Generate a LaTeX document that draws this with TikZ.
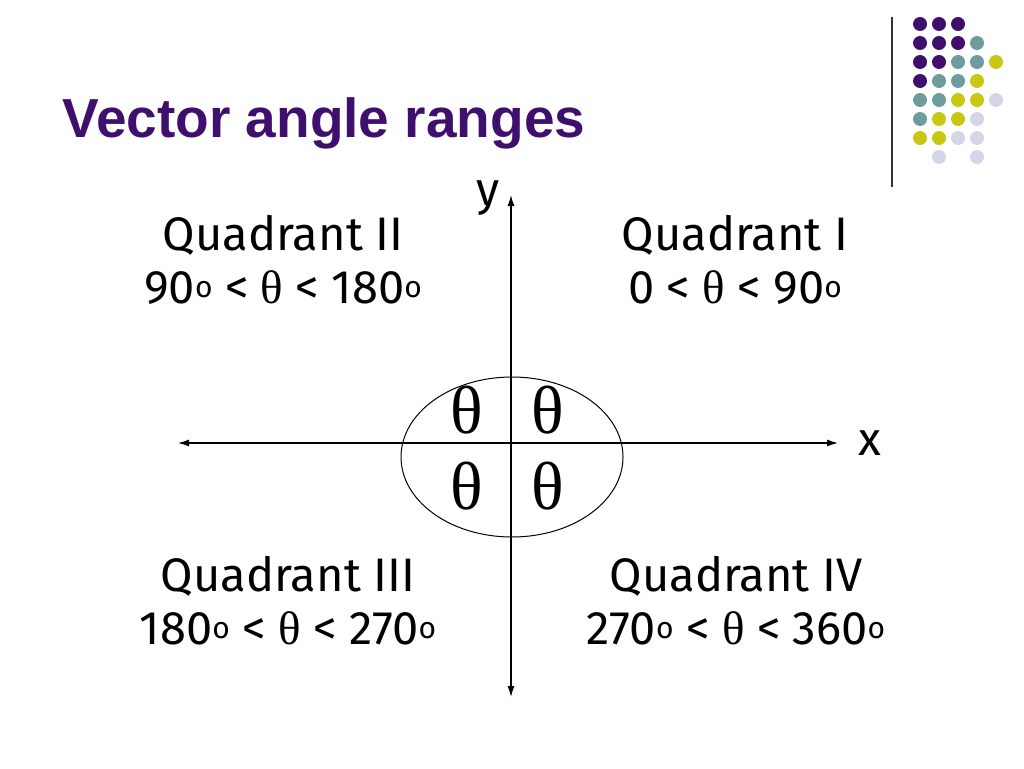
\documentclass[tikz,border=0pt]{standalone}
\usepackage{fontspec}
\setmainfont{Fira Sans}
\newfontfamily\titlefont{Liberation Sans}
\newfontfamily\thfont{Liberation Serif}
\usetikzlibrary{arrows.meta}
\definecolor{dp}{HTML}{3F0F6E}
\definecolor{dt}{HTML}{6E9C9C}
\definecolor{dy}{HTML}{C8C814}
\definecolor{dl}{HTML}{D5D5E8}
\begin{document}
\begin{tikzpicture}[x=1pt,y=-1pt,
  q/.style={align=center,font=\fontsize{47}{53}\selectfont},
  th/.style={font=\thfont\fontsize{68}{68}\selectfont}]
\useasboundingbox (0,0) rectangle (1024,768);
\node[anchor=west,text=dp,font=\titlefont\bfseries\fontsize{55}{55}\selectfont] (title) at (59,123) {Vector angle ranges};
\draw[line width=1.5pt,black!80] (892,17) -- (892,187);
\foreach \c/\r/\col in {0/0/dp,1/0/dp,2/0/dp,0/1/dp,1/1/dp,2/1/dp,3/1/dt,0/2/dp,1/2/dp,2/2/dt,3/2/dt,4/2/dy,0/3/dp,1/3/dt,2/3/dt,3/3/dy,0/4/dt,1/4/dt,2/4/dy,3/4/dy,4/4/dl,0/5/dt,1/5/dy,2/5/dy,3/5/dl,0/6/dy,1/6/dy,2/6/dl,3/6/dl,1/7/dl,3/7/dl}
  \fill[\col] ({920+19*\c},{24+19*\r}) circle (7);
\coordinate (L) at (178,443); \coordinate (R) at (838,443);
\coordinate (T) at (511,195); \coordinate (B) at (511,697);
\draw[line width=1.3pt,{Latex[length=11pt,width=7pt]}-{Latex[length=11pt,width=7pt]}] (L) -- (R);
\draw[line width=1.3pt,{Latex[length=11pt,width=7pt]}-{Latex[length=11pt,width=7pt]}] (T) -- (B);
\draw[line width=1pt] (512,457) ellipse (111 and 80);
\node[q] (yl) at (488,198) {y};
\node[q] (xl) at (870,443) {x};
\node[th] (t1) at (467,410) {θ};
\node[th] (t2) at (548,410) {θ};
\node[th] (t3) at (467,486) {θ};
\node[th] (t4) at (548,486) {θ};
\newcommand{\dg}{\raisebox{0.25ex}{\fontsize{30}{30}\selectfont o}}
\newcommand{\tht}{{\thfont θ}}
\node[q] (q2) at (283,260) {Quadrant II\\90\dg{} < \tht{} < 180\dg};
\node[q] (q1) at (735,260) {Quadrant I\\0 < \tht{} < 90\dg};
\node[q] (q3) at (288,601) {Quadrant III\\180\dg{} < \tht{} < 270\dg};
\node[q] (q4) at (736,601) {Quadrant IV\\270\dg{} < \tht{} < 360\dg};
\end{tikzpicture}
\end{document}
